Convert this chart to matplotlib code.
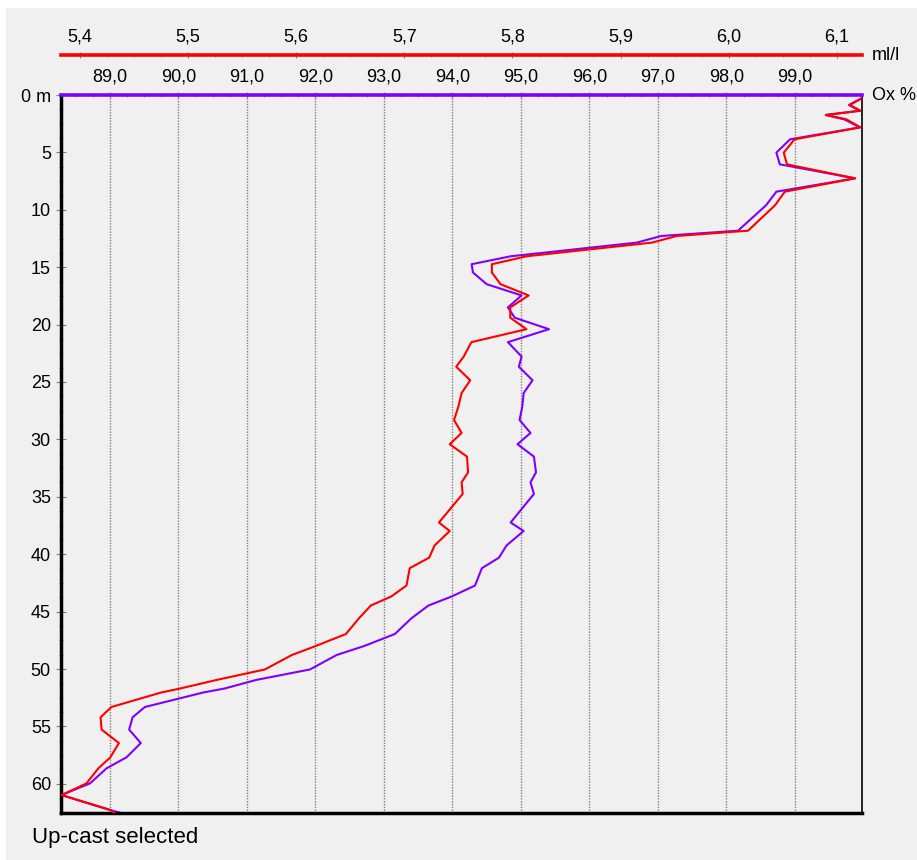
import matplotlib
matplotlib.use('Agg')
import matplotlib.pyplot as plt
from matplotlib.ticker import MultipleLocator, FuncFormatter
from matplotlib.patches import Rectangle

plt.rcParams['font.family'] = ['Liberation Sans', 'DejaVu Sans']

# depth of each sample (m), shared by both profiles
depth = [0.3, 0.87, 1.37, 1.74, 2.12, 2.82, 3.86, 5.02, 6.04, 7.26,
         8.42, 9.6, 11.82, 12.28, 12.86, 14.05, 14.74, 15.46, 16.48, 17.46,
         18.5, 19.4, 20.4, 21.53, 22.78, 23.67, 24.85, 25.96, 27.15, 28.31,
         29.44, 30.42, 31.5, 32.87, 33.74, 34.75, 37.24, 37.98, 39.24, 40.3,
         41.22, 42.73, 43.68, 44.47, 45.59, 46.95, 48.0, 48.78, 50.04, 50.96,
         51.69, 52.05, 53.31, 54.21, 55.28, 56.45, 57.7, 58.65, 59.96, 60.98,
         62.28, 62.6]

# oxygen saturation (%)
ox_pct = [99.97, 99.79, 99.95, 99.45, 99.72, 99.95, 98.93, 98.73, 98.78, 99.88,
          98.73, 98.58, 98.17, 97.05, 96.69, 94.85, 94.28, 94.30, 94.50, 95.01,
          94.81, 94.91, 95.41, 94.81, 95.01, 94.97, 95.17, 95.04, 95.02, 94.98,
          95.14, 94.95, 95.19, 95.22, 95.14, 95.19, 94.85, 95.04, 94.79, 94.68,
          94.43, 94.33, 93.99, 93.65, 93.40, 93.16, 92.71, 92.31, 91.92, 91.13,
          90.68, 90.36, 89.51, 89.33, 89.28, 89.45, 89.24, 88.95, 88.71, 88.29,
          89.00, 89.20]

# oxygen concentration (ml/l)
ox_mll = [6.123, 6.112, 6.122, 6.090, 6.109, 6.122, 6.061, 6.051, 6.054, 6.117,
          6.052, 6.043, 6.018, 5.952, 5.929, 5.813, 5.781, 5.781, 5.789, 5.815,
          5.798, 5.798, 5.813, 5.762, 5.755, 5.748, 5.761, 5.753, 5.750, 5.746,
          5.753, 5.742, 5.758, 5.759, 5.753, 5.754, 5.732, 5.742, 5.728, 5.723,
          5.705, 5.702, 5.688, 5.669, 5.658, 5.646, 5.618, 5.596, 5.571, 5.526,
          5.493, 5.475, 5.429, 5.419, 5.420, 5.436, 5.428, 5.417, 5.406, 5.383,
          5.428, 5.433]

W, H = 917, 860
BG = '#f0f0f0'
PURPLE = '#8000ff'
RED = '#ff0000'
GREY = '#808080'
FS = 13


def comma(v, pos):
    return f'{v:.1f}'.replace('.', ',')


def depth_fmt(v, pos):
    return '0 m' if abs(v) < 1e-9 else f'{v:.0f}'


fig = plt.figure(figsize=(W / 100, H / 100), dpi=100, facecolor='white')
fig.patches.append(Rectangle((6 / W, 0), 1, (H - 8) / H, transform=fig.transFigure,
                             facecolor=BG, edgecolor='none', zorder=-10))

ax = fig.add_axes([61 / W, (H - 812.5) / H, 801 / W, 717.5 / H])
ax.set_facecolor(BG)
ax.plot(ox_pct, depth, color=PURPLE, lw=1.5)
ax.set_xlim(88.285, 99.98)
ax.set_ylim(62.5, 0)

# second scale for ml/l, drawn above the % scale
ax2 = ax.twiny()
ax2.patch.set_visible(False)
ax2.plot(ox_mll, depth, color=RED, lw=1.5)
ax2.set_xlim(5.3824, 6.1234)
ax2.set_ylim(62.5, 0)

# twiny puts the first x axis at the bottom, move it back up
ax.xaxis.tick_top()
ax.xaxis.set_major_locator(MultipleLocator(1))
ax.xaxis.set_minor_locator(MultipleLocator(0.25))
ax.xaxis.set_major_formatter(FuncFormatter(comma))
ax.tick_params(axis='x', which='both', direction='inout', color=GREY,
               labelsize=FS, bottom=False, labelbottom=False, top=True, labeltop=True)
ax.tick_params(axis='x', which='major', length=5, pad=4)
ax.tick_params(axis='x', which='minor', length=3)
ax.grid(axis='x', which='major', color=GREY, ls=(0, (1, 1)), lw=1)

ax.yaxis.set_major_locator(MultipleLocator(5))
ax.yaxis.set_minor_locator(MultipleLocator(1.25))
ax.yaxis.set_major_formatter(FuncFormatter(depth_fmt))
ax.tick_params(axis='y', which='both', direction='inout', color=GREY, labelsize=FS)
ax.tick_params(axis='y', which='major', length=7.5, pad=3.5)
ax.tick_params(axis='y', which='minor', length=3)

ax.spines['top'].set_color(PURPLE)
ax.spines['top'].set_linewidth(2.6)
ax.spines['left'].set_linewidth(2.5)
ax.spines['bottom'].set_linewidth(2.5)
ax.spines['right'].set_linewidth(1.2)

for s in ['left', 'right', 'bottom']:
    ax2.spines[s].set_visible(False)
ax2.spines['top'].set_position(('outward', 28.8))
ax2.spines['top'].set_color(RED)
ax2.spines['top'].set_linewidth(2.6)
ax2.xaxis.set_major_locator(MultipleLocator(0.1))
ax2.xaxis.set_minor_locator(MultipleLocator(0.025))
ax2.xaxis.set_major_formatter(FuncFormatter(comma))
ax2.tick_params(axis='x', which='both', direction='inout', color=GREY, labelsize=FS)
ax2.tick_params(axis='x', which='major', length=5, pad=4)
ax2.tick_params(axis='x', which='minor', length=3)

fig.text(872 / W, 1 - 55 / H, 'ml/l', ha='left', va='center', fontsize=FS)
fig.text(872 / W, 1 - 95 / H, 'Ox %', ha='left', va='center', fontsize=FS)
fig.text(32 / W, 1 - 837 / H, 'Up-cast selected', ha='left', va='center', fontsize=16)

fig.savefig('out.png', dpi=100, facecolor=fig.get_facecolor())
